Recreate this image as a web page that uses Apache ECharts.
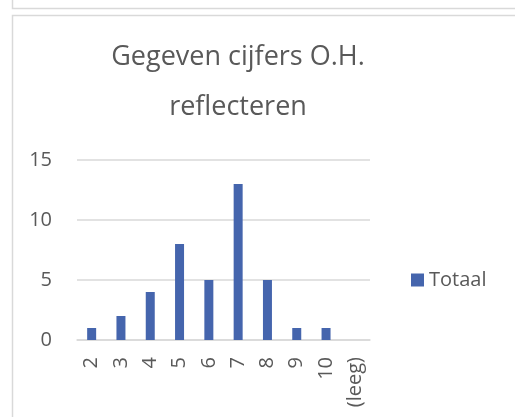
<!DOCTYPE html>
<html>
<head>
<meta charset="utf-8">
<script src="https://cdn.jsdelivr.net/npm/echarts@6/dist/echarts.min.js"></script>
<style>html,body{margin:0;padding:0;background:#fff;}#c{width:515px;height:417px;}</style>
</head>
<body>
<div id="c"></div>
<script>
const categories = ['2','3','4','5','6','7','8','9','10','(leeg)'];
const totaal = [1,2,4,8,5,13,5,1,1,null];
const yTicks = [0,5,10,15];
const seriesName = 'Totaal';
const titleText = 'Gegeven cijfers O.H.\nreflecteren';

const chart = echarts.init(document.getElementById('c'), null, {renderer:'canvas'});
const font = '"Open Sans", "Liberation Sans", sans-serif';
chart.setOption({
  animation:false,
  backgroundColor:'#fff',
  graphic:[
    {type:'polyline', shape:{points:[[12.5,0],[12.5,8.5],[515,8.5]]}, style:{stroke:'#d9d9d9', lineWidth:1.5, fill:null}},
    {type:'polyline', shape:{points:[[12.5,417],[12.5,15.5],[515,15.5]]}, style:{stroke:'#d9d9d9', lineWidth:1.5, fill:null}}
  ],
  title:{text:titleText, left:238, top:32, textAlign:'center', padding:0,
    textStyle:{fontFamily:font, fontWeight:'normal', fontSize:27, color:'#595959', lineHeight:50}},
  legend:{data:[seriesName], left:406, top:265, itemWidth:13, itemHeight:13, icon:'rect',
    textStyle:{fontFamily:font, fontSize:20, color:'#595959'}},
  grid:{left:77, right:145, top:160, bottom:77, containLabel:false},
  xAxis:{type:'category', data:categories,
    axisLine:{lineStyle:{color:'#d9d9d9', width:1.5}}, axisTick:{show:false},
    axisLabel:{rotate:90, interval:0, fontFamily:font, fontSize:20, color:'#595959', margin:17}},
  yAxis:{type:'value', min:0, max:15, interval:5,
    axisLine:{show:false}, axisTick:{show:false},
    splitLine:{lineStyle:{color:'#d9d9d9', width:1.5}},
    axisLabel:{fontFamily:font, fontSize:20, color:'#595959', margin:25,
      formatter:v=>yTicks.includes(v)?String(v):''}},
  series:[{name:seriesName, type:'bar', data:totaal, barWidth:9,
    itemStyle:{color:'#4565ad'}}]
});
</script>
</body>
</html>
